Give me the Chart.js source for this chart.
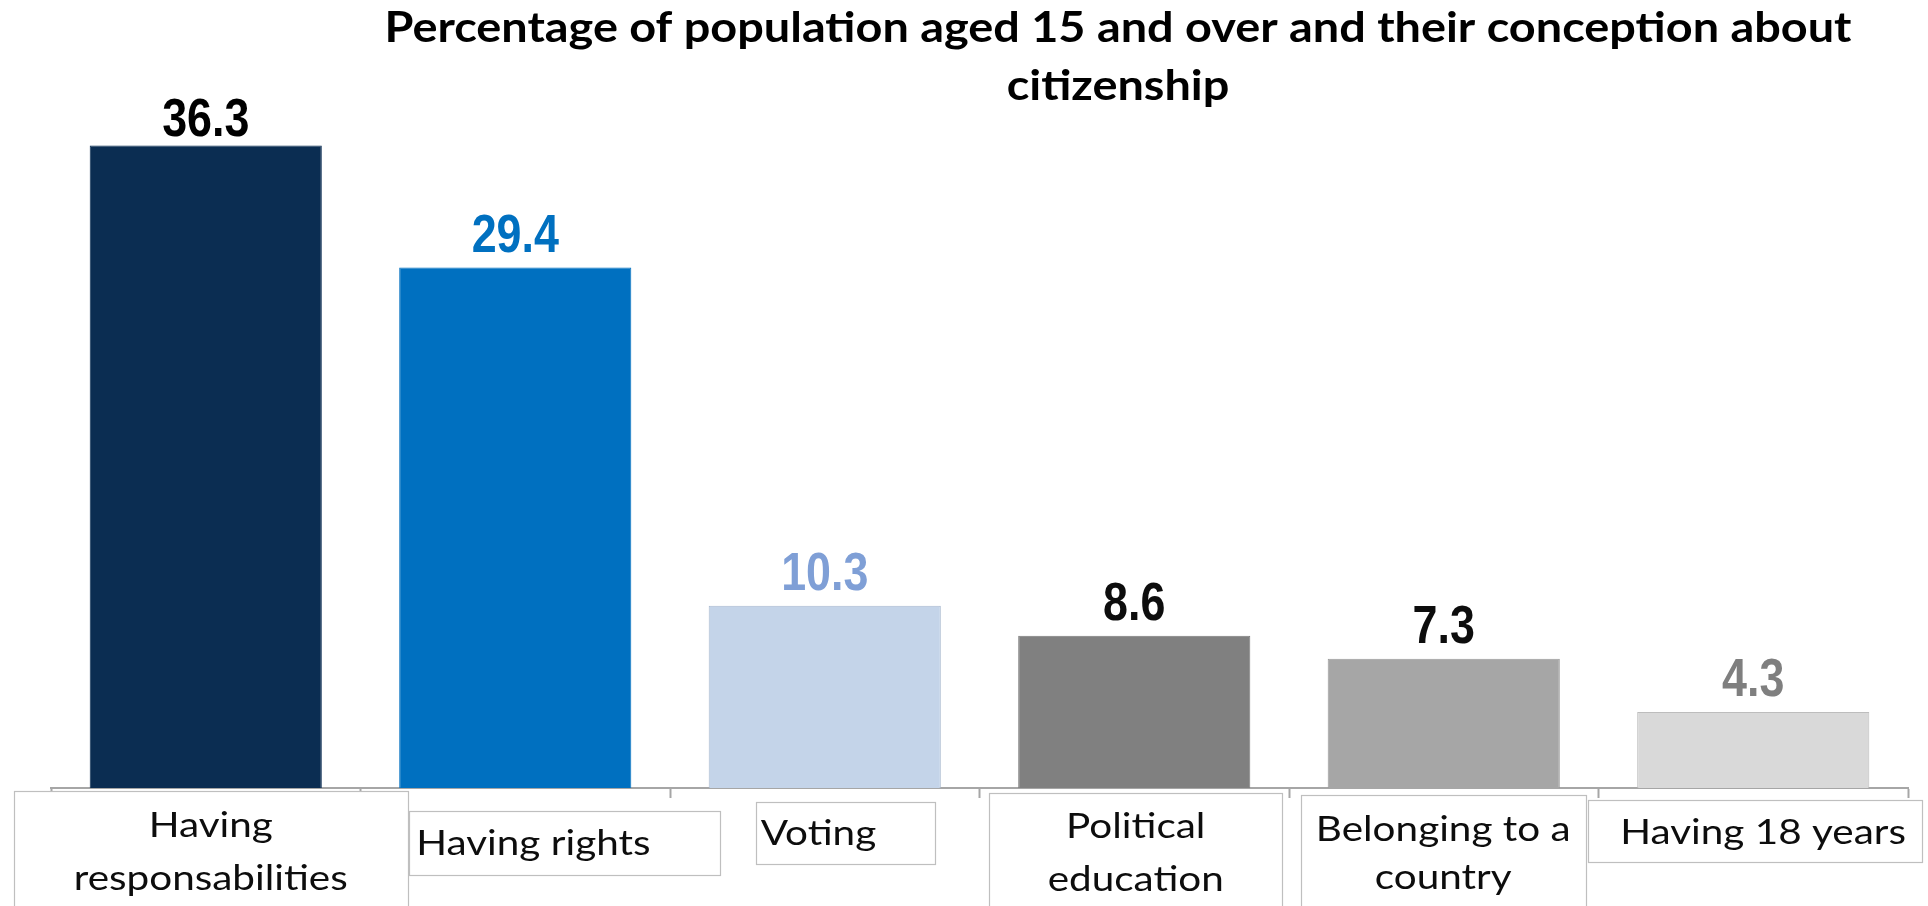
<!DOCTYPE html>
<html>
<head>
<meta charset="utf-8">
<title>Conception about citizenship</title>
<script src="https://cdn.jsdelivr.net/npm/chart.js@4.4.1/dist/chart.umd.min.js"></script>
<style>
  html, body { margin: 0; padding: 0; background: #ffffff; }
  #wrap { width: 1928px; height: 906px; position: relative; }
  canvas { display: block; }
</style>
</head>
<body>
<div id="wrap"><canvas id="chart" width="1928" height="906"></canvas></div>
<script>
// Answers given by the population aged 15 and over (%)
const categories = [
  ["Having", "responsabilities"],
  ["Having rights"],
  ["Voting"],
  ["Political", "education"],
  ["Belonging to a", "country"],
  ["Having 18 years"]
];
const values = [36.3, 29.4, 10.3, 8.6, 7.3, 4.3];
const barColors = ["#0b2d52", "#0070c0", "#c4d4e9", "#808080", "#a6a6a6", "#d9d9d9"];
const barEdges = ["#0b2d52", "#0070c0", "#a9b9cf", "#7a7a7a", "#999999", "#bdbdbd"];
const valueColors = ["#000000", "#0070c0", "#7f9fd6", "#0d0d0d", "#0d0d0d", "#7f7f7f"];
const titleLines = ["Percentage of population aged 15 and over and their conception about", "citizenship"];

// Text boxes under the axis, placed relative to each category centre and the axis line.
// dx/w: box left offset and width; dy/h: box top offset and height;
// align: text placement inside the box; tx: text left offset (for left aligned); base: baselines.
const labelBoxes = [
  { dx: -192, w: 394, dy: 3,  h: 140, align: "center", base: [49, 102] },
  { dx: -106, w: 311, dy: 23, h: 64,  align: "left", tx: -99, base: [67] },
  { dx: -69,  w: 179, dy: 14, h: 62,  align: "left", tx: -64, base: [57] },
  { dx: -145, w: 293, dy: 5,  h: 140, align: "center", base: [50, 103] },
  { dx: -143, w: 285, dy: 7,  h: 140, align: "center", base: [53, 101] },
  { dx: -165, w: 334, dy: 12, h: 62,  align: "left", tx: -133, base: [56] }
];

const chartTitle = {
  id: "chartTitle",
  afterDraw(chart) {
    const ctx = chart.ctx;
    ctx.save();
    ctx.font = "bold 42px Lato";
    ctx.fillStyle = "#000000";
    ctx.textBaseline = "alphabetic";
    ctx.textAlign = "center";
    const sx = 1467 / ctx.measureText(titleLines[0]).width;
    const cx = 1118;
    const baselines = [42, 100];
    titleLines.forEach((line, i) => {
      ctx.save();
      ctx.translate(cx, baselines[i]);
      ctx.scale(sx, 1);
      ctx.fillText(line, 0, 0);
      ctx.restore();
    });
    ctx.restore();
  }
};

const valueLabels = {
  id: "valueLabels",
  afterDatasetsDraw(chart) {
    const ctx = chart.ctx;
    const meta = chart.getDatasetMeta(0);
    // labels sit above their bar, but never climb into the title area
    const highest = chart.chartArea.top + 56;
    ctx.save();
    ctx.font = "bold 54px 'Liberation Sans'";
    ctx.textAlign = "center";
    ctx.textBaseline = "alphabetic";
    meta.data.forEach((bar, i) => {
      ctx.save();
      ctx.translate(bar.x, Math.max(bar.y - 16, highest));
      ctx.scale(0.83, 1);
      ctx.fillStyle = valueColors[i];
      ctx.fillText(values[i].toFixed(1), 0, 0);
      ctx.restore();
    });
    ctx.restore();
  }
};

const categoryBoxes = {
  id: "categoryBoxes",
  afterDraw(chart) {
    const ctx = chart.ctx;
    const xs = chart.scales.x;
    const axisY = chart.chartArea.bottom;
    ctx.save();
    ctx.font = "34px Lato";
    const sx = 274 / ctx.measureText("responsabilities").width;
    ctx.textBaseline = "alphabetic";
    categories.forEach((lines, i) => {
      const b = labelBoxes[i];
      const c = xs.getPixelForValue(i);
      const left = Math.round(c + b.dx) + 0.5;
      const top = Math.round(axisY + b.dy) + 0.5;
      ctx.fillStyle = "#ffffff";
      ctx.fillRect(left, top, b.w, b.h);
      ctx.strokeStyle = "#bfbfbf";
      ctx.lineWidth = 1.2;
      ctx.strokeRect(left, top, b.w, b.h);
      ctx.fillStyle = "#0d0d0d";
      lines.forEach((txt, k) => {
        ctx.save();
        const y = axisY + b.base[k];
        if (b.align === "center") {
          ctx.textAlign = "center";
          ctx.translate(c + b.dx + b.w / 2, y);
        } else {
          ctx.textAlign = "left";
          ctx.translate(c + b.tx, y);
        }
        ctx.scale(sx, 1);
        ctx.fillText(txt, 0, 0);
        ctx.restore();
      });
    });
    ctx.restore();
  }
};

new Chart(document.getElementById("chart"), {
  type: "bar",
  data: {
    labels: categories,
    datasets: [{
      data: values,
      backgroundColor: barColors,
      borderColor: barEdges,
      borderWidth: 1,
      barPercentage: 0.75,
      categoryPercentage: 1.0
    }]
  },
  options: {
    responsive: false,
    animation: false,
    devicePixelRatio: 1,
    layout: { padding: { left: 51, right: 20, top: 80, bottom: 108 } },
    plugins: {
      legend: { display: false },
      title: { display: false },
      tooltip: { enabled: false }
    },
    scales: {
      y: { display: false, min: 0, max: 40 },
      x: {
        display: true,
        afterFit(scale) { scale.height = 10; },
        ticks: { display: false },
        grid: {
          offset: true,
          drawOnChartArea: false,
          drawTicks: true,
          tickLength: 10,
          tickColor: "#a6a6a6",
          tickWidth: 2,
          color: "#a6a6a6"
        },
        border: { display: true, color: "#a6a6a6", width: 2 }
      }
    }
  },
  plugins: [valueLabels, categoryBoxes, chartTitle]
});
</script>
</body>
</html>
